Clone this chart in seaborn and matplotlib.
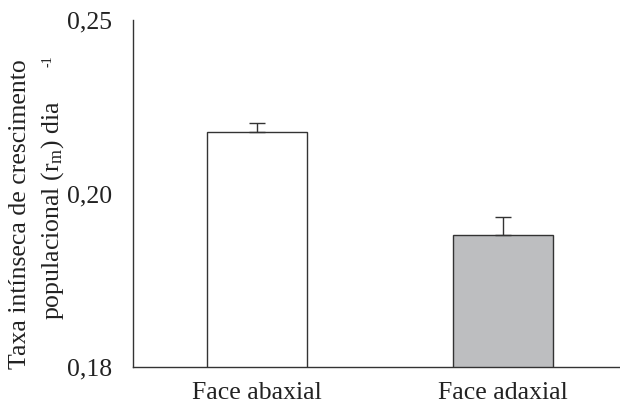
import matplotlib
matplotlib.use("Agg")
import matplotlib.pyplot as plt
import seaborn as sns
import pandas as pd

categories = ["Face abaxial", "Face adaxial"]
values = [0.2071, 0.1952]
errors = [0.0010, 0.0021]
bar_colors = ["#ffffff", "#bcbec0"]
ytick_values = [0.18, 0.20, 0.22]
ytick_labels = ["0,18", "0,20", "0,25"]

sns.set_theme(style="white")
plt.rcParams["font.family"] = ["Liberation Serif", "DejaVu Serif"]
plt.rcParams["mathtext.fontset"] = "custom"
plt.rcParams["mathtext.rm"] = "Liberation Serif"
plt.rcParams["mathtext.it"] = "Liberation Serif"

df = pd.DataFrame({"cat": categories, "val": values})

fig = plt.figure(figsize=(6.2, 4.05), dpi=100)
ax = fig.add_axes([0.2145, 0.0938, 0.7855, 0.8568])

sns.barplot(data=df, x="cat", y="val", hue="cat", palette=bar_colors,
            width=0.406, edgecolor="#333333", linewidth=1.0, legend=False, ax=ax)
ax.errorbar(range(len(categories)), values, yerr=[[0] * len(errors), errors],
            fmt="none", ecolor="#333333", elinewidth=1.0, capsize=6, capthick=1.0)

ax.set_xlim(-0.504, 1.476)
ax.set_ylim(0.18, 0.22)
ax.set_yticks(ytick_values)
ax.set_yticklabels(ytick_labels)
ax.tick_params(axis="y", direction="in", length=4, width=1, color="#333333",
               labelsize=18.5, pad=15, labelcolor="#222222")
ax.tick_params(axis="x", length=0, labelsize=18.5, pad=10.5, labelcolor="#222222")
ax.set_xlabel("")
ax.set_ylabel("")
for s in ["top", "right"]:
    ax.spines[s].set_visible(False)
for s in ["left", "bottom"]:
    ax.spines[s].set_color("#333333")
    ax.spines[s].set_linewidth(1.0)

fig.text(0.032, 0.09, "Taxa intínseca de crescimento", rotation=90,
         ha="center", va="bottom", fontsize=18.5, color="#222222")
fig.text(0.084, 0.21, "populacional (r$_\\mathrm{m}$) dia", rotation=90,
         ha="center", va="bottom", fontsize=18.5, color="#222222")
fig.text(0.077, 0.85, "-1", rotation=90, ha="center", va="center",
         fontsize=10, color="#222222")

fig.savefig("out.png", dpi=100)
